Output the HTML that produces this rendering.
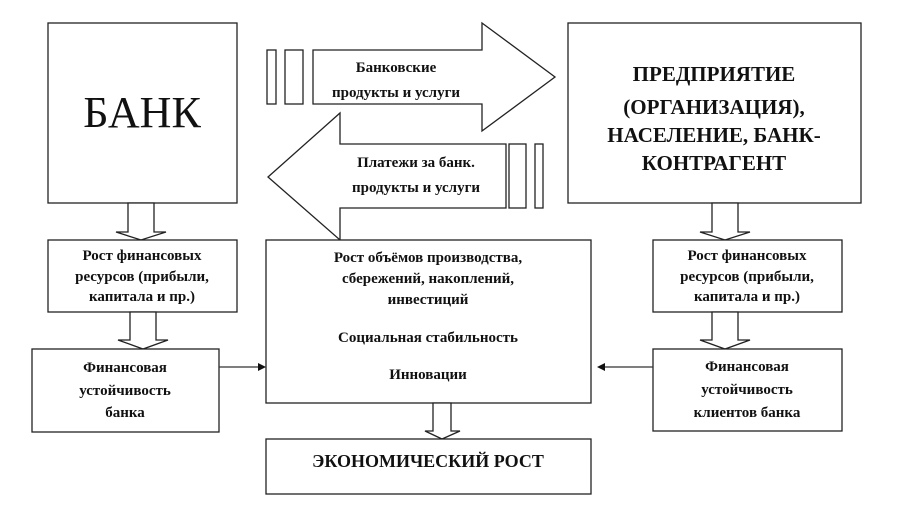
<!DOCTYPE html>
<html><head><meta charset="utf-8"><style>
html,body{margin:0;padding:0;background:#fff;}
svg{display:block;}
text{font-family:"Liberation Serif","Noto Serif CJK SC",serif;fill:#111;text-anchor:middle;}
.b{font-weight:bold;font-size:15px;}
</style></head><body>
<svg width="905" height="507" viewBox="0 0 905 507" xmlns="http://www.w3.org/2000/svg">
<g fill="#fff" stroke="#222" stroke-width="1.3">
<rect x="48" y="23" width="189" height="180"/>
<rect x="568" y="23" width="293" height="180"/>
<rect x="267" y="50" width="9" height="54"/>
<rect x="285" y="50" width="18" height="54"/>
<polygon points="313,50 482,50 482,23 555,77 482,131 482,104 313,104"/>
<polygon points="506,144 340,144 340,113 268,177 340,240 340,208 506,208"/>
<rect x="509" y="144" width="17" height="64"/>
<rect x="535" y="144" width="8" height="64"/>
<polygon points="128,203 154,203 154,232 166,232 141,240 116,232 128,232"/>
<rect x="48" y="240" width="189" height="72"/>
<polygon points="130,312 156,312 156,340 168,340 143,349 118,340 130,340"/>
<rect x="32" y="349" width="187" height="83"/>
<rect x="266" y="240" width="325" height="163"/>
<polygon points="433,403 451,403 451,431 460,431 442,439 425,431 433,431"/>
<rect x="266" y="439" width="325" height="55"/>
<polygon points="712,203 738,203 738,232 750,232 725,240 700,232 712,232"/>
<rect x="653" y="240" width="189" height="72"/>
<polygon points="712,312 738,312 738,340 750,340 725,349 700,340 712,340"/>
<rect x="653" y="349" width="189" height="82"/>
</g>
<g stroke="#333" stroke-width="1.2">
<line x1="219" y1="367" x2="260" y2="367"/>
<line x1="653" y1="367" x2="603" y2="367"/>
</g>
<polygon points="266,367 258,363 258,371" fill="#111"/>
<polygon points="597,367 605,363 605,371" fill="#111"/>
<text x="142" y="127" style="font-size:44px">БАНК</text>
<g style="font-weight:bold;font-size:21px">
<text x="714" y="81">ПРЕДПРИЯТИЕ</text>
<text x="714" y="114">(ОРГАНИЗАЦИЯ),</text>
<text x="714" y="142">НАСЕЛЕНИЕ, БАНК-</text>
<text x="714" y="170">КОНТРАГЕНТ</text>
</g>
<text class="b" x="396" y="72">Банковские</text>
<text class="b" x="396" y="97">продукты и услуги</text>
<text class="b" x="416" y="167">Платежи за банк.</text>
<text class="b" x="416" y="192">продукты и услуги</text>
<text class="b" x="142" y="260">Рост финансовых</text>
<text class="b" x="142" y="281">ресурсов (прибыли,</text>
<text class="b" x="142" y="301">капитала и пр.)</text>
<text class="b" x="747" y="260">Рост финансовых</text>
<text class="b" x="747" y="281">ресурсов (прибыли,</text>
<text class="b" x="747" y="301">капитала и пр.)</text>
<text class="b" x="125" y="372">Финансовая</text>
<text class="b" x="125" y="395">устойчивость</text>
<text class="b" x="125" y="417">банка</text>
<text class="b" x="747" y="371">Финансовая</text>
<text class="b" x="747" y="394">устойчивость</text>
<text class="b" x="747" y="417">клиентов банка</text>
<text class="b" x="428" y="262">Рост объёмов производства,</text>
<text class="b" x="428" y="283">сбережений, накоплений,</text>
<text class="b" x="428" y="304">инвестиций</text>
<text class="b" x="428" y="342">Социальная стабильность</text>
<text class="b" x="428" y="379">Инновации</text>
<text x="428" y="467" style="font-size:18px;font-weight:bold">ЭКОНОМИЧЕСКИЙ РОСТ</text>
</svg>
</body></html>
